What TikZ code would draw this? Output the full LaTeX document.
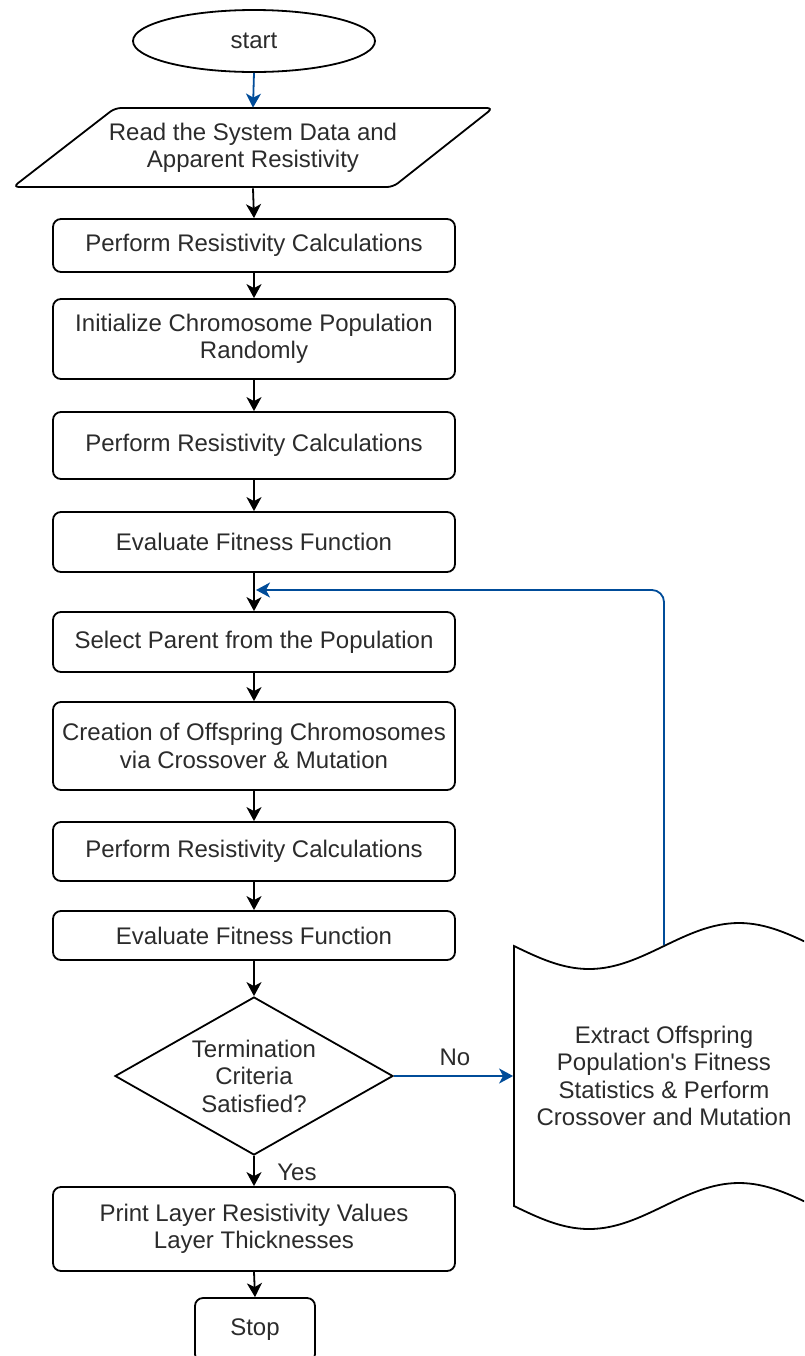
\documentclass[tikz,border=0pt]{standalone}
\usepackage{fontspec}
\setmainfont{Liberation Sans}
\usetikzlibrary{shapes.geometric, arrows.meta}
\definecolor{flowblue}{HTML}{004C99}
\definecolor{ink}{HTML}{2B2B2B}

\begin{document}
\begin{tikzpicture}[x=0.5pt, y=-0.5pt, line width=0.9pt,
  every node/.style={font=\fontsize{12}{13.75}\selectfont, text=ink, align=center},
  proc/.style={draw, rounded corners=4pt, minimum width=201pt, inner sep=0pt},
  flow/.style={-{Stealth[length=7pt, width=7.5pt, inset=2pt]}},
  backflow/.style={flow, draw=flowblue}
]
\useasboundingbox (0,0) rectangle (804,1356);
\clip (0,0) rectangle (804,1356);

% terminator
\node[ellipse, draw, minimum width=121pt, minimum height=31pt, inner sep=0pt] (start) at (254,41) {start};

% input / output parallelogram
\draw[rounded corners=3pt] (115,108) -- (493,108) -- (393,187) -- (13,187) -- cycle;
\node[minimum width=190pt, minimum height=39.5pt, inner sep=0pt] (read) at (253,148)
  {Read the System Data and\\Apparent Resistivity};

% process steps
\node[proc, minimum height=26.5pt] (calc1) at (254,245.5) {Perform Resistivity Calculations};
\node[proc, minimum height=40pt]   (init)  at (254,339)   {Initialize Chromosome Population\\Randomly};
\node[proc, minimum height=33.5pt] (calc2) at (254,445.5) {Perform Resistivity Calculations};
\node[proc, minimum height=30pt]   (eval1) at (254,542)   {Evaluate Fitness Function};
\node[proc, minimum height=30pt]   (select) at (254,642)  {Select Parent from the Population};
\node[proc, minimum height=44pt]   (offs)  at (254,746)   {Creation of Offspring Chromosomes\\via Crossover \& Mutation};
\node[proc, minimum height=29.5pt] (calc3) at (254,851.5) {Perform Resistivity Calculations};
\node[proc, minimum height=24.5pt] (eval2) at (254,935.5) {Evaluate Fitness Function};

% decision
\node[diamond, draw, aspect=1.74, inner sep=0pt, minimum width=139pt, minimum height=79pt]
  (term) at (254,1076) {Termination\\Criteria\\Satisfied?};

\node[proc, minimum height=42pt] (print) at (254,1229) {Print Layer Resistivity Values\\Layer Thicknesses};
\node[proc, minimum width=60pt, minimum height=32pt] (stop) at (255,1330) {Stop};

% tape-shaped note with wavy top and bottom edges
\draw (514,946) sin (589,969) cos (664,946) sin (739,923) cos (814,946)
  -- (814,1206) sin (739,1183) cos (664,1206) sin (589,1229) cos (514,1206) -- cycle;
\node[minimum width=150pt, minimum height=130pt, inner sep=0pt] (extract) at (664,1076)
  {Extract Offspring\\Population\textquotesingle s Fitness\\Statistics \& Perform\\Crossover and Mutation};

% connectors
\draw[backflow] (start.south) -- (read.north);
\draw[flow] (read.south) -- (calc1.north);
\draw[flow] (calc1.south) -- (init.north);
\draw[flow] (init.south) -- (calc2.north);
\draw[flow] (calc2.south) -- (eval1.north);
\draw[flow] (eval1.south) -- (select.north);
\draw[flow] (select.south) -- (offs.north);
\draw[flow] (offs.south) -- (calc3.north);
\draw[flow] (calc3.south) -- (eval2.north);
\draw[flow] (eval2.south) -- (term.north);
\draw[flow] (term.south) -- (print.north);
\draw[flow] (print.south) -- (stop.north);

\draw[backflow] (term.east) -- (extract.west);
\node (nolabel) at (455,1057) {No};
\node (yeslabel) at (297,1172) {Yes};

% loop back into the main flow
\coordinate (join) at (256,590);
\draw[backflow, rounded corners=6pt] (extract.north) |- (join);
\end{tikzpicture}
\end{document}
